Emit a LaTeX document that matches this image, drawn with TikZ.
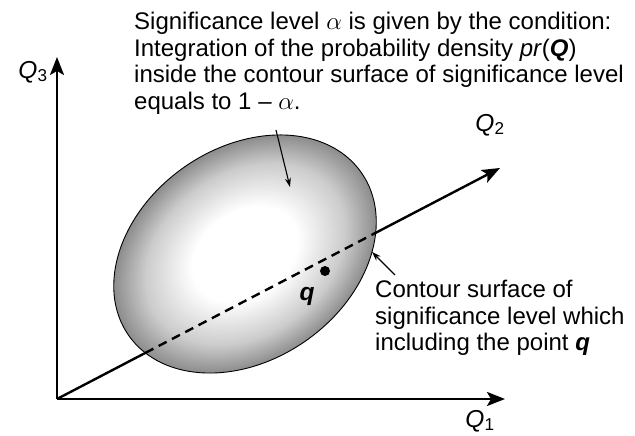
\documentclass[tikz,border=0pt]{standalone}
\usepackage{fontspec}
\setmainfont{Liberation Sans}
\usetikzlibrary{arrows.meta,intersections}
% grey rim fading to a white core
\pgfdeclareradialshading{contourshade}{\pgfpoint{0bp}{0bp}}{%
  color(0bp)=(white); color(10bp)=(white); color(19bp)=(black!20);
  color(25bp)=(black!45); color(50bp)=(black!45)}
\begin{document}
\begin{tikzpicture}[x=1pt, y=1pt,
  axisline/.style={line width=2.4pt, -{Stealth[length=18pt, width=14pt, inset=4pt]}},
  pointer/.style={line width=1.1pt, -{Stealth[length=9pt, width=6pt]}},
  axislabel/.style={inner sep=0pt, font=\fontsize{24.5}{26.5}\selectfont},
  notetext/.style={inner sep=0pt, align=left, anchor=north west,
    font=\fontsize{24}{26.5}\selectfont}]
\providecommand{\sigTilt}{35}
\providecommand{\sigRadX}{142pt}
\providecommand{\sigRadY}{106pt}
\useasboundingbox (0,0) rectangle (635,436);
% Axes end points
\coordinate (O) at (57,37);
\coordinate (q1tip) at (505,37);
\coordinate (q2tip) at (500,268);
\coordinate (q3tip) at (57,379);
\coordinate (ctr) at (245,182);
% Contour surface, shaded
\begin{scope}[transform canvas={shift={(ctr)}, rotate=\sigTilt}]
  \shade[shading=contourshade] (0,0) ellipse [x radius=\sigRadX, y radius=\sigRadY];
\end{scope}
\draw[line width=0.9pt, name path=contour, rotate around={\sigTilt:(ctr)}]
  (ctr) ellipse [x radius=\sigRadX, y radius=\sigRadY];
% Axes
\draw[axisline] (O) -- (q1tip);
\draw[axisline] (O) -- (q3tip);
\path[name path=q2line] (O) -- (q2tip);
\path[name intersections={of=contour and q2line, sort by=q2line, by={enter,leave}}];
\draw[line width=2.4pt] (O) -- (enter);
\draw[line width=2.4pt, dash pattern=on 9pt off 6pt] (enter) -- (leave);
\draw[axisline] (leave) -- (q2tip);
\node[axislabel] (q1label) at (480,15) {\textit{Q}\textsubscript{1}};
\node[axislabel] (q2label) at (490,311) {\textit{Q}\textsubscript{2}};
\node[axislabel] (q3label) at (33,364) {\textit{Q}\textsubscript{3}};
% Point q
\node[circle, fill, inner sep=0pt, minimum size=10pt] (qdot) at (325,165) {};
\node[axislabel] (qlabel) at (307,140) {\textbf{\textit{q}}};
% Notes
\node[notetext] (cond) at (134,424)
  {Significance level $\alpha$ is given by the condition:\\
   Integration of the probability density \textit{pr}(\textbf{\textit{Q}})\\
   inside the contour surface of significance level\\
   equals to 1 -- $\alpha$.};
\node[notetext] (surf) at (375,156)
  {Contour surface of\\
   significance level which\\
   including the point \textbf{\textit{q}}};
\coordinate (alphatail) at (276,306);
\coordinate (alphatip) at (290,249);
\coordinate (surftail) at (395,161);
\coordinate (surftip) at (372,184);
\draw[pointer] (alphatail) -- (alphatip);
\draw[pointer] (surftail) -- (surftip);
\end{tikzpicture}
\end{document}
